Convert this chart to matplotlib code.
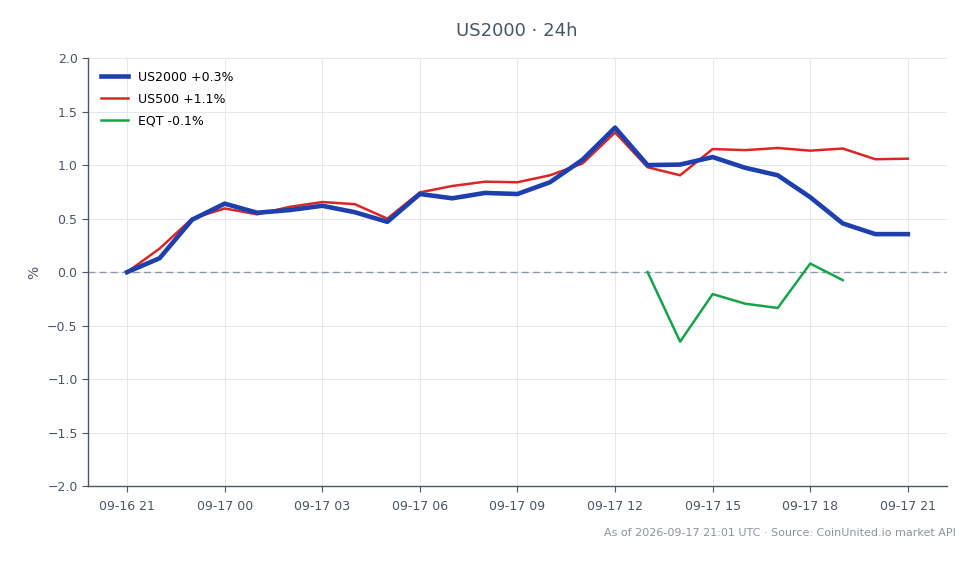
import numpy as np
import pandas as pd
import matplotlib
matplotlib.use("Agg")
import matplotlib.pyplot as plt
import matplotlib.dates as mdates

plt.rcParams['font.family'] = ['DejaVu Sans']

# hourly timestamps 09-16 21:00 -> 09-17 21:00
times = pd.date_range("2026-09-16 21:00", "2026-09-17 21:00", freq="h")

us2000 = [0.00, 0.13, 0.49, 0.64, 0.555, 0.58, 0.62, 0.56, 0.47, 0.73, 0.69, 0.74, 0.73,
          0.84, 1.05, 1.35, 1.00, 1.005, 1.075, 0.975, 0.905, 0.70, 0.455, 0.355, 0.355]
us500 = [0.00, 0.22, 0.50, 0.595, 0.54, 0.61, 0.655, 0.635, 0.50, 0.745, 0.805, 0.845, 0.84,
         0.905, 1.015, 1.305, 0.98, 0.905, 1.15, 1.14, 1.16, 1.135, 1.155, 1.055, 1.06]
eqt = [np.nan] * 16 + [0.0, -0.65, -0.205, -0.295, -0.335, 0.08, -0.075] + [np.nan] * 2

labels = ["US2000 +0.3%", "US500 +1.1%", "EQT -0.1%"]
colors = ["#1e40af", "#dc2626", "#16a34a"]
text_col = "#4a5568"

fig = plt.figure(figsize=(9.79, 5.64), dpi=100)
ax = fig.add_axes([0.0899, 0.138, 0.8773, 0.759])

ax.plot(times, us2000, color=colors[0], lw=3.3, label=labels[0], zorder=4)
ax.plot(times, us500, color=colors[1], lw=1.8, label=labels[1], zorder=3)
ax.plot(times, eqt, color=colors[2], lw=1.8, label=labels[2], zorder=3)
ax.axhline(0, color="#8a96ad", lw=1, ls=(0, (5, 3)), zorder=2)

ax.set_ylim(-2.0, 2.0)
ax.set_yticks(np.arange(-2.0, 2.01, 0.5))
ax.yaxis.set_major_formatter(plt.FuncFormatter(lambda v, p: f"{v:.1f}".replace("-", "\u2212")))
ax.set_xlim(times[0] - pd.Timedelta(hours=1.2), times[-1] + pd.Timedelta(hours=1.2))
ax.xaxis.set_major_locator(mdates.HourLocator(byhour=range(0, 24, 3)))
ax.xaxis.set_major_formatter(mdates.DateFormatter("%m-%d %H"))

ax.grid(True, color="#e5e8ee", lw=0.7, zorder=0)
for s in ["top", "right"]:
    ax.spines[s].set_visible(False)
for s in ["left", "bottom"]:
    ax.spines[s].set_color(text_col)
    ax.spines[s].set_linewidth(1.0)
ax.tick_params(colors=text_col, labelsize=9, length=4)
ax.tick_params(axis="x", pad=6)
ax.set_ylabel("%", color=text_col, fontsize=10)

ax.legend(loc="upper left", frameon=False, fontsize=9, handlelength=2.2,
          labelspacing=0.72, borderaxespad=0.6)

fig.text(0.528, 0.945, "US2000 \u00b7 24h", ha="center", va="center", fontsize=13, color=text_col)
fig.text(0.976, 0.055, "As of 2026-09-17 21:01 UTC \u00b7 Source: CoinUnited.io market API",
         ha="right", va="center", fontsize=8, color="#8a94a6")

fig.savefig("out.png", dpi=100)
